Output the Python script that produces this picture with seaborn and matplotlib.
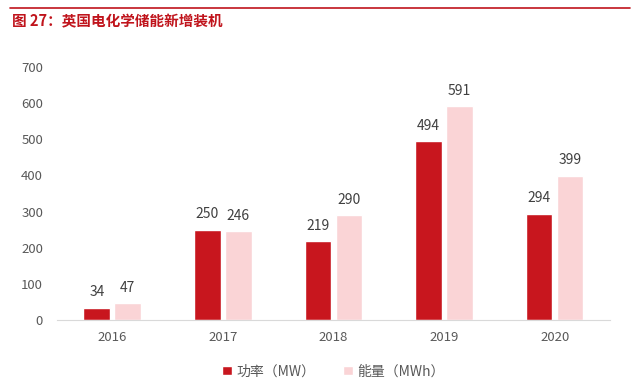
import matplotlib
matplotlib.use("Agg")
import matplotlib.pyplot as plt
import seaborn as sns
import pandas as pd

years = ["2016", "2017", "2018", "2019", "2020"]
power_mw = [34, 250, 219, 494, 294]
energy_mwh = [47, 246, 290, 591, 399]
series_names = ["功率（MW）", "能量（MWh）"]
colors = ["#C8161E", "#FAD4D6"]

sns.set_style("white")
plt.rcParams['font.family'] = ['Noto Sans CJK SC', 'DejaVu Sans']

df = pd.DataFrame({
    "year": years * 2,
    "value": power_mw + energy_mwh,
    "series": [series_names[0]] * len(years) + [series_names[1]] * len(years),
})

fig = plt.figure(figsize=(6.4, 3.83), dpi=100)
ax = fig.add_axes([0.089, 0.1645, 0.864, 0.6605])
sns.barplot(data=df, x="year", y="value", hue="series", palette=colors,
            width=0.56, gap=0.14, ax=ax, saturation=1, legend=True)

for c in ax.containers:
    ax.bar_label(c, fmt="%d", padding=6, fontsize=10, color="#404040")

ax.set_ylim(0, 700)
ax.set_yticks(range(0, 701, 100))
ax.set_xlabel("")
ax.set_ylabel("")
ax.tick_params(axis="both", labelsize=9.5, colors="#595959", length=0)
for s in ["top", "right", "left"]:
    ax.spines[s].set_visible(False)
ax.spines["bottom"].set_color("#D9D9D9")
ax.tick_params(axis="x", pad=8)
ax.tick_params(axis="y", pad=10)

ax.legend(loc="lower center", bbox_to_anchor=(0.5, -0.28), ncol=2, frameon=False,
          fontsize=10, handlelength=0.7, handleheight=0.7, handletextpad=0.3,
          columnspacing=2.0, labelcolor="#595959")

fig.add_artist(plt.Line2D([0.016, 0.984], [0.979, 0.979], color="#C0141C", lw=1.2))
fig.text(0.019, 0.945, "图 27：英国电化学储能新增装机", color="#C0141C", fontsize=10.5,
         fontweight="bold", va="center", ha="left")

fig.savefig("out.png", dpi=100)
